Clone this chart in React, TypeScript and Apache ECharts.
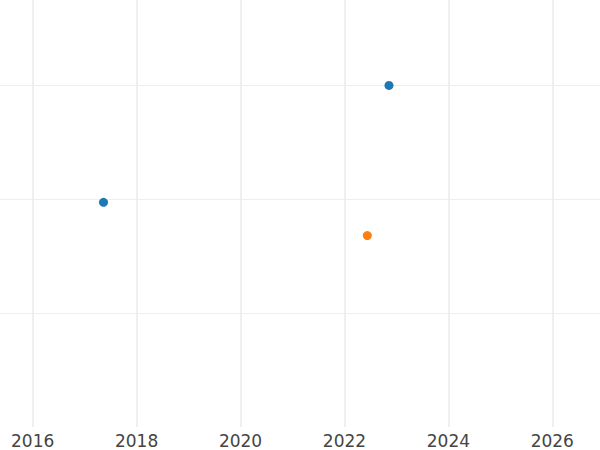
import React, { useEffect, useRef } from "react";
import * as echarts from "echarts";

const blueX = [2017.363, 2022.857];
const blueY = [1.971, 2.997];
const orangeX = [2022.44];
const orangeY = [1.679];

const xMin = 2015.371;
const xMax = 2026.918;
const yMin = 0;
const yMax = 3.746;

export default function App() {
  const ref = useRef<HTMLDivElement>(null);
  useEffect(() => {
    if (!ref.current) return;
    const chart = echarts.init(ref.current, undefined, { renderer: "svg" });
    chart.setOption({
      animation: false,
      backgroundColor: "#ffffff",
      grid: { left: 0, right: 0, top: 0, bottom: 23, containLabel: false },
      xAxis: {
        type: "value",
        min: xMin,
        max: xMax,
        axisLine: { show: false },
        axisTick: { show: false },
        axisLabel: {
          show: true,
          showMinLabel: false,
          showMaxLabel: false,
          margin: 5,
          color: "#444444",
          fontSize: 17,
          fontFamily: "DejaVu Sans",
          formatter: (v: number) => String(Math.round(v)),
        },
        splitLine: {
          show: true,
          showMinLine: false,
          showMaxLine: false,
          lineStyle: { color: "#ebebeb", width: 1.6 },
        },
      },
      yAxis: {
        type: "value",
        min: yMin,
        max: yMax,
        interval: 1,
        axisLine: { show: false },
        axisTick: { show: false },
        axisLabel: { show: false },
        splitLine: {
          show: true,
          showMinLine: false,
          showMaxLine: false,
          lineStyle: { color: "#eeeeee", width: 1 },
        },
      },
      series: [
        {
          type: "scatter",
          symbolSize: 9,
          itemStyle: { color: "#1f77b4", opacity: 1 },
          data: blueX.map((x, i) => [x, blueY[i]]),
        },
        {
          type: "scatter",
          symbolSize: 9,
          itemStyle: { color: "#ff7f0e", opacity: 1 },
          data: orangeX.map((x, i) => [x, orangeY[i]]),
        },
      ],
    });
    return () => chart.dispose();
  }, []);
  return (
    <div
      ref={ref}
      style={{ position: "absolute", left: 0, top: 0, width: 600, height: 450 }}
    />
  );
}
